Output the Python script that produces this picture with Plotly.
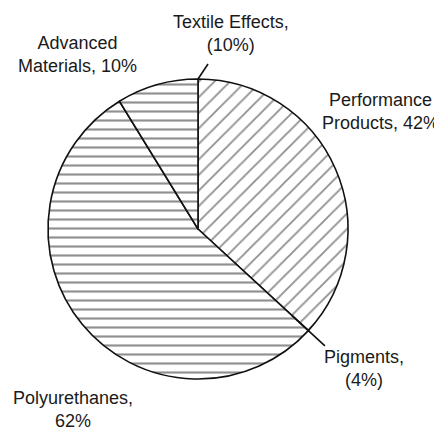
import numpy as np
import plotly.graph_objects as go

# Data (percent contributions; negatives shown in parentheses)
segments = ["Performance Products", "Polyurethanes", "Advanced Materials"]
segment_values = [42, 62, 10]
negative_segments = ["Textile Effects", "Pigments"]
negative_values = [-10, -4]

OFF = 8                      # page body margin in px
W, H = 442 - OFF, 430 - OFF  # figure size
CX, CY, R = 198, 229, 150    # pie centre and radius in window px

def px(x, y):
    return (x - OFF) / W, 1 - (y - OFF) / H

dx0, dy1 = px(CX - R, CY - R)
dx1, dy0 = px(CX + R, CY + R)

fig = go.Figure()
fig.add_trace(go.Pie(
    labels=segments,
    values=segment_values,
    sort=False,
    direction="clockwise",
    rotation=0,
    textinfo="none",
    hoverinfo="label+value",
    showlegend=False,
    domain=dict(x=[dx0, dx1], y=[dy0, dy1]),
    marker=dict(
        colors=["white", "white", "white"],
        line=dict(color="#111111", width=1.6),
        pattern=dict(
            shape=["/", "-", "-"],
            size=[11, 9, 9],
            solidity=[0.17, 0.24, 0.24],
            fgcolor="#222222",
            bgcolor="white",
            fillmode="overlay",
        ),
    ),
))

def fmt(v):
    return f"({abs(v)}%)" if v < 0 else f"{v}%"

font = dict(family="Liberation Sans, Arial, sans-serif", size=18, color="#1a1a1a")

labels = {
    "Textile Effects": ("Textile Effects,<br>" + fmt(negative_values[0]), 231, 34),
    "Advanced Materials": ("Advanced<br>Materials, " + fmt(segment_values[2]), 77, 54),
    "Performance Products": ("Performance<br>Products, " + fmt(segment_values[0]), 380, 111),
    "Pigments": ("Pigments,<br>" + fmt(negative_values[1]), 364, 368),
    "Polyurethanes": ("Polyurethanes,<br>" + fmt(segment_values[1]), 73, 409),
}
for key, (txt, x, y) in labels.items():
    ax, ay = px(x, y)
    fig.add_annotation(x=ax, y=ay, xref="paper", yref="paper", text=txt,
                       showarrow=False, font=font, align="center",
                       xanchor="center", yanchor="middle")

# leader lines derived from slice boundaries
total = sum(segment_values)
ang_pig = 2 * np.pi * segment_values[0] / total
x0 = CX + R * np.sin(ang_pig) * 0.85
y0 = CY - R * np.cos(ang_pig) * 0.85
x1 = CX + R * np.sin(ang_pig) * 1.15
y1 = CY - R * np.cos(ang_pig) * 1.15
a0 = px(x0, y0); a1 = px(x1, y1)
fig.add_shape(type="line", xref="paper", yref="paper", x0=a0[0], y0=a0[1],
              x1=a1[0], y1=a1[1], line=dict(color="#111111", width=1.6))
t0 = px(CX, CY - R)
t1 = px(CX + 10, CY - R - 15)
fig.add_shape(type="line", xref="paper", yref="paper", x0=t0[0], y0=t0[1],
              x1=t1[0], y1=t1[1], line=dict(color="#111111", width=1.6))

fig.update_layout(width=W, height=H, margin=dict(l=0, r=0, t=0, b=0),
                  paper_bgcolor="white", plot_bgcolor="white")
fig.write_html("out.html")
